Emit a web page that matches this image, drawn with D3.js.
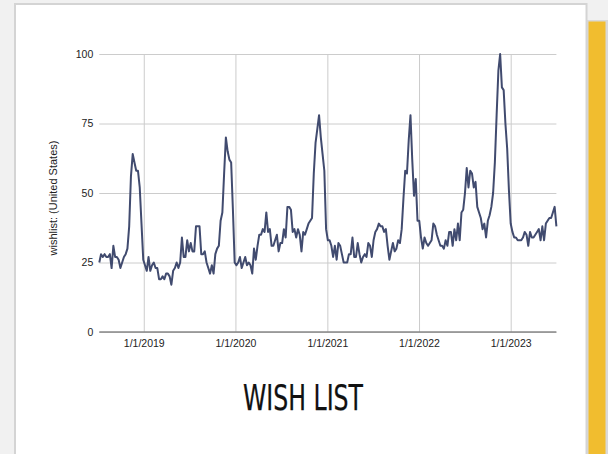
<!DOCTYPE html>
<html>
<head>
<meta charset="utf-8">
<script src="https://cdn.jsdelivr.net/npm/d3@7"></script>
<style>
  html, body { margin: 0; padding: 0; background: #f1f1f1; }
  svg { display: block; }
</style>
</head>
<body>
<svg id="chart" width="608" height="454"></svg>
<script>
// Weekly search interest for "wishlist" (United States), first week starting 2018-07-08
const firstWeek = "2018-07-08";
const wishlist = [
  25, 28, 27, 28, 27, 27, 28, 23, 31, 27, 27, 26, 23, 25, 27, 28, 30, 38, 56, 64,
  61, 58, 58, 52, 39, 26, 24, 22, 27, 22, 24, 25, 23, 23, 19, 19, 20, 19, 21, 21,
  20, 17, 22, 23, 25, 23, 25, 34, 27, 27, 33,
  29, 32, 29, 29, 38, 38, 38, 28, 28, 29, 25, 23, 21, 24, 21, 28, 30, 31, 40, 43,
  57, 70, 65, 62, 61, 44, 25, 24, 25, 27, 23, 25, 27, 24, 25, 24, 21, 30, 26, 31,
  35, 35, 37, 36, 43, 36, 37, 31, 31, 33, 35, 29, 32,
  32, 37, 34, 45, 45, 44, 36, 37, 34, 37, 35, 29, 36, 35, 37, 39, 40, 41, 57, 68,
  73, 78, 70, 64, 58, 37, 33, 33, 31, 27, 31, 26, 32, 31, 28, 25, 25, 25, 28, 28,
  34, 27, 27, 32, 28, 25, 27, 28, 27, 32, 31, 27,
  33, 36, 37, 39, 38, 38, 36, 37, 31, 26, 29, 32, 29, 30, 33, 32, 37, 48, 58, 57,
  69, 78, 62, 49, 55, 40, 40, 34, 30, 34, 32, 31, 32, 33, 39, 38, 35, 33, 31, 31,
  30, 33, 31, 36, 36, 31, 37, 33, 39, 33, 43, 44,
  50, 59, 52, 58, 57, 52, 54, 45, 43, 41, 37, 39, 34, 40, 42, 45, 50, 61, 78, 94,
  100, 88, 87, 75, 66, 51, 39, 36, 34, 34, 33, 33, 33, 34, 36, 35, 31, 36, 34, 34,
  35, 36, 37, 33, 38, 33, 39, 40, 41, 41, 43, 45, 38
];
const yTicks = [0, 25, 50, 75, 100];
const xTickDates = ["2019-01-01", "2020-01-01", "2021-01-01", "2022-01-01", "2023-01-01"];
const xTickLabels = ["1/1/2019", "1/1/2020", "1/1/2021", "1/1/2022", "1/1/2023"];
const yAxisTitle = "wishlist: (United States)";
const chartTitle = "WISH LIST";

const parse = d3.utcParse("%Y-%m-%d");
const start = parse(firstWeek);
const series = wishlist.map((v, i) => ({ date: d3.utcWeek.offset(start, i), value: v }));

const svg = d3.select("#chart");

// page frame: white card and yellow side tab
svg.append("rect").attr("x", 0).attr("y", 0).attr("width", 608).attr("height", 454).attr("fill", "#f1f1f1");
svg.append("rect").attr("x", 587).attr("y", 20).attr("width", 21).attr("height", 440).attr("fill", "#d9d9d9");
svg.append("rect").attr("x", 588.5).attr("y", 21.5).attr("width", 17).attr("height", 440).attr("fill", "#f1bd2f");
svg.append("rect").attr("x", 15).attr("y", 4).attr("width", 571.5).attr("height", 460)
  .attr("fill", "#ffffff").attr("stroke", "#d4d4d4").attr("stroke-width", 2);

const plot = { left: 99.3, right: 556.4, top: 54, bottom: 332 };

const x = d3.scaleUtc()
  .domain(d3.extent(series, d => d.date))
  .range([plot.left, plot.right]);
const y = d3.scaleLinear().domain([0, 100]).range([plot.bottom, plot.top]);

const g = svg.append("g");

// horizontal gridlines + value labels
const yAxis = d3.axisLeft(y).tickValues(yTicks).tickSize(-(plot.right - plot.left)).tickPadding(6);
const yg = g.append("g").attr("transform", `translate(${plot.left},0)`).call(yAxis);
yg.select(".domain").remove();
yg.selectAll(".tick line").attr("stroke", "#cccccc").attr("stroke-width", 1);
yg.selectAll(".tick text").attr("fill", "#222").attr("font-family", "Liberation Sans, Arial, sans-serif").attr("font-size", 10.5);

// vertical gridlines at each new year
const xAxis = d3.axisBottom(x)
  .tickValues(xTickDates.map(parse))
  .tickFormat((d, i) => xTickLabels[i])
  .tickSize(-(plot.bottom - plot.top))
  .tickPadding(8);
const xg = g.append("g").attr("transform", `translate(0,${plot.bottom})`).call(xAxis);
xg.select(".domain").remove();
xg.selectAll(".tick line").attr("stroke", "#cccccc").attr("stroke-width", 1);
xg.selectAll(".tick text").attr("fill", "#222").attr("font-family", "Liberation Sans, Arial, sans-serif").attr("font-size", 10.5);

// baseline
g.append("line")
  .attr("x1", plot.left).attr("x2", plot.right)
  .attr("y1", y(0)).attr("y2", y(0))
  .attr("stroke", "#888").attr("stroke-width", 1.5);

// series line
const line = d3.line().x(d => x(d.date)).y(d => y(d.value));
g.append("path")
  .datum(series)
  .attr("d", line)
  .attr("fill", "none")
  .attr("stroke", "#414b6f")
  .attr("stroke-width", 2)
  .attr("stroke-linejoin", "round");

// axis title
svg.append("text")
  .attr("transform", `translate(57,198) rotate(-90)`)
  .attr("text-anchor", "middle")
  .attr("font-family", "Liberation Sans, Arial, sans-serif")
  .attr("font-size", 11)
  .attr("fill", "#222")
  .text(yAxisTitle);

// chart title
svg.append("text")
  .attr("x", 243).attr("y", 410)
  .attr("textLength", 120)
  .attr("lengthAdjust", "spacingAndGlyphs")
  .attr("font-family", "Liberation Sans Narrow, DejaVu Sans Condensed, Liberation Sans, sans-serif")
  .attr("font-size", 35)
  .attr("fill", "#111")
  .attr("stroke", "#111")
  .attr("stroke-width", 0.25)
  .text(chartTitle);
</script>
</body>
</html>
